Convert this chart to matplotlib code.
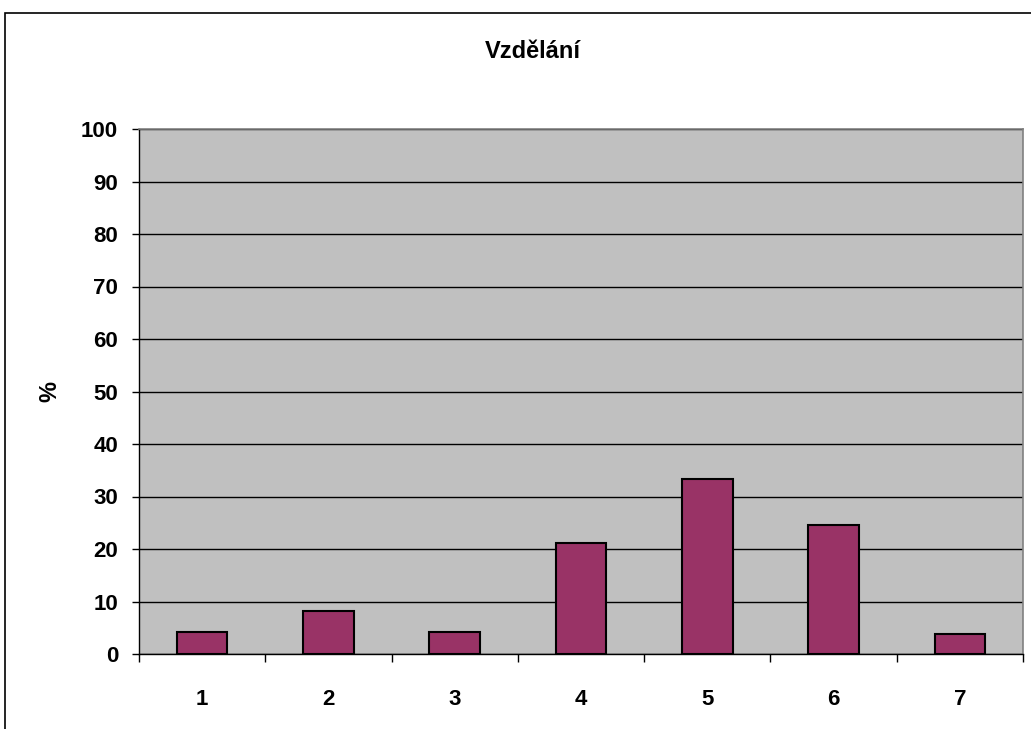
import matplotlib
matplotlib.use("Agg")
import matplotlib.pyplot as plt
from matplotlib.patches import Rectangle
import numpy as np

categories = ["1", "2", "3", "4", "5", "6", "7"]
values = [4.2, 8.1, 4.2, 21.2, 33.4, 24.6, 3.8]
yticks = [0, 10, 20, 30, 40, 50, 60, 70, 80, 90, 100]
title = "Vzdělání"
ylabel = "%"

plt.rcParams['font.family'] = ['Liberation Sans', 'DejaVu Sans']

fig = plt.figure(figsize=(10.31, 7.29), dpi=100)
ax = fig.add_axes([139/1031, 1-654/729, (1023-139)/1031, (654-129)/729])
ax.set_facecolor('#C0C0C0')

x = np.arange(1, len(categories) + 1)
ax.bar(x, values, width=0.40, color='#993366', edgecolor='black', linewidth=1.5, zorder=3)

ax.set_xlim(0.5, len(categories) + 0.5)
ax.set_ylim(0, 100)
ax.set_yticks(yticks)
ax.set_yticklabels([str(t) for t in yticks], fontsize=16, fontweight='bold')
ax.yaxis.grid(True, color='black', linewidth=1.0, zorder=1)
ax.set_axisbelow(True)

ax.set_xticks(np.arange(0.5, len(categories) + 1, 1.0))
ax.set_xticklabels([])
ax.set_xticks(x, minor=True)
ax.set_xticklabels(categories, minor=True, fontsize=16, fontweight='bold')
ax.tick_params(axis='x', which='major', length=6, width=1, direction='out', color='black')
ax.tick_params(axis='x', which='minor', length=0, pad=25)
ax.tick_params(axis='y', length=5, width=1, direction='out', pad=10)

for s in ['top', 'right']:
    ax.spines[s].set_color('#808080')
    ax.spines[s].set_linewidth(1.2)
for s in ['left', 'bottom']:
    ax.spines[s].set_color('black')
    ax.spines[s].set_linewidth(1.0)

ax.set_ylabel(ylabel, fontsize=17, fontweight='bold')
ax.yaxis.set_label_coords(-78/884, 0.5)

fig.text(533/1031, 1-52/729, title, ha='center', va='center', fontsize=17, fontweight='bold')

# outer chart frame
fig.patches.append(Rectangle((5/1031, -0.05), 1.1, 1-13/729+0.05, transform=fig.transFigure,
                             fill=False, edgecolor='black', linewidth=1.2))

fig.savefig('out.png', dpi=100)
